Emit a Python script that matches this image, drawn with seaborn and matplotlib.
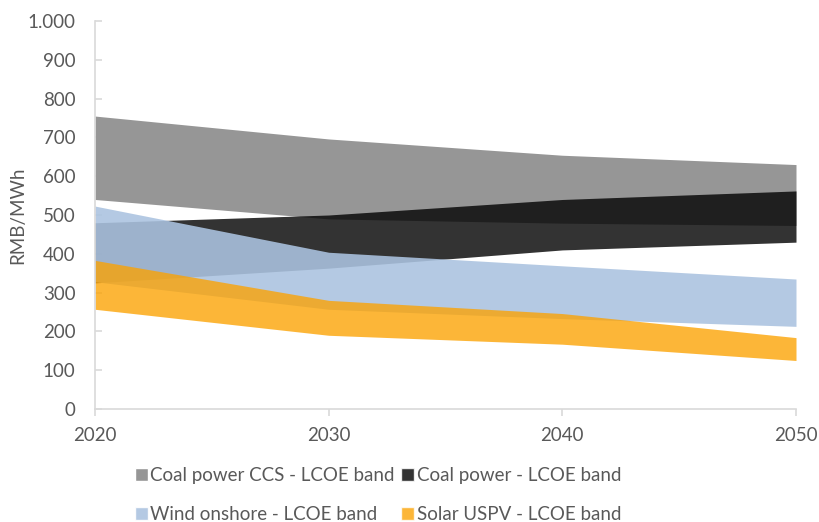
import matplotlib
matplotlib.use("Agg")
import matplotlib.pyplot as plt
from matplotlib.patches import Patch
from matplotlib.ticker import FuncFormatter
import seaborn as sns
import pandas as pd

years = [2020, 2030, 2040, 2050]

ccs_low = [540, 490, 479, 473]
ccs_high = [755, 696, 654, 630]
coal_low = [325, 363, 410, 430]
coal_high = [480, 500, 540, 562]
wind_low = [328, 257, 233, 213]
wind_high = [523, 404, 369, 335]
solar_low = [257, 190, 167, 125]
solar_high = [383, 280, 246, 184]

labels = ["Coal power CCS - LCOE band", "Coal power - LCOE band",
          "Wind onshore - LCOE band", "Solar USPV - LCOE band"]

sns.set_theme(style="white")
plt.rcParams["font.family"] = ["Lato", "DejaVu Sans"]
txt = "#595959"
axcol = "#d9d9d9"
fs = 13.5

df = pd.DataFrame({"year": years * 4,
                   "low": ccs_low + coal_low + wind_low + solar_low,
                   "high": ccs_high + coal_high + wind_high + solar_high,
                   "band": sum([[l] * 4 for l in labels], [])})

fig = plt.figure(figsize=(8.2, 5.22), dpi=100)
ax = fig.add_axes([95 / 820, 1 - 409 / 522, (796 - 95) / 820, (409 - 21) / 522])

# invisible line so seaborn sets up the axes from the data
sns.lineplot(data=df, x="year", y="high", hue="band", legend=False,
             linewidth=0, ax=ax)

styles = {labels[0]: ("#969696", 1.0),
          labels[1]: ("#030303", 0.81),
          labels[2]: ("#abc3e0", 0.89),
          labels[3]: ("#fca200", 0.78)}

handles = {}
for lab in labels:
    sub = df[df["band"] == lab]
    col, a = styles[lab]
    ax.fill_between(sub["year"], sub["low"], sub["high"], color=col,
                    alpha=a, linewidth=0)
    handles[lab] = Patch(facecolor=col, alpha=a, label=lab)

ax.set_xlim(2020, 2050)
ax.set_ylim(0, 1000)
ax.set_xticks(years)
ax.set_yticks(range(0, 1001, 100))
ax.yaxis.set_major_formatter(FuncFormatter(lambda v, p: f"{int(v):,}".replace(",", ".")))
ax.set_xlabel("")
ax.set_ylabel("RMB/MWh", fontsize=fs, color=txt, labelpad=1)

for s in ["top", "right"]:
    ax.spines[s].set_visible(False)
for s in ["left", "bottom"]:
    ax.spines[s].set_color(axcol)
    ax.spines[s].set_linewidth(1.2)

ax.tick_params(axis="y", direction="in", length=5, width=1.2, color=axcol,
               labelsize=fs, labelcolor=txt, pad=14, left=True)
ax.tick_params(axis="x", direction="out", length=5, width=1.2, color=axcol,
               labelsize=fs, labelcolor=txt, pad=8, bottom=True)

# legend fills column by column, so order for two rows
order = [labels[0], labels[2], labels[1], labels[3]]
fig.legend(handles=[handles[l] for l in order], ncol=2, loc="upper left",
           bbox_to_anchor=(118 / 820, 1 - 450 / 522), frameon=False,
           fontsize=fs, labelcolor=txt, handlelength=0.7, handleheight=0.7,
           handletextpad=0.12, columnspacing=0.35, labelspacing=1.2)

fig.savefig("out.png", dpi=100)
